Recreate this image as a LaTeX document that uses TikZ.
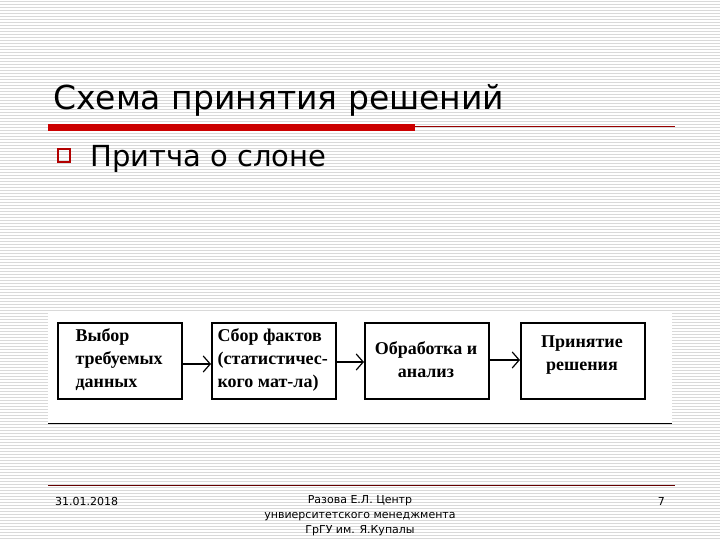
\documentclass[tikz,border=0pt]{standalone}
\usepackage{fontspec}
\setmainfont{DejaVu Sans}
\newfontfamily\tnr{Liberation Serif}
\usetikzlibrary{arrows.meta}
\begin{document}
\begin{tikzpicture}[x=1pt,y=-1pt,
  stepbox/.style={draw,line width=2pt,minimum width=124pt,minimum height=76pt,anchor=north west,inner sep=0pt},
  btxt/.style={font=\tnr\bfseries\fontsize{18}{23}\selectfont,align=left},
  conn/.style={line width=2pt,-{Straight Barb[length=7pt,width=16pt,line width=1.2pt]}},
  foot/.style={font=\fontsize{11}{15}\selectfont}]
\useasboundingbox (0,0) rectangle (720,540);
\fill[white] (0,0) rectangle (720,540);
\foreach \y in {1,4,...,540} \draw[gray!30,line width=0.8pt] (0,\y) -- (720,\y);
\node[anchor=base west,inner sep=0pt,font=\fontsize{33}{36}\selectfont] (title) at (53,110) {Схема принятия решений};
\fill[red!80!black] (48,124) rectangle (415,131);
\draw[red!60!black,line width=0.6pt] (415,126) -- (675,126);
\draw[red!70!black,line width=2pt] (58,149) rectangle (70,162);
\node[anchor=base west,inner sep=0pt,font=\fontsize{29}{32}\selectfont] (sub) at (90,167) {Притча о слоне};
\fill[white] (48,313) rectangle (672,423);
\draw[line width=1pt] (48,423) -- (672,423);
\node[stepbox] (b1) at (57,322) {};
\node[stepbox] (b2) at (211,322) {};
\node[stepbox] (b3) at (364,322) {};
\node[stepbox] (b4) at (520,322) {};
\node[btxt,anchor=north west] (t1) at (72,325) {Выбор\\требуемых\\данных};
\node[btxt,anchor=north west] (t2) at (214,325) {Сбор фактов\\(статистичес-\\кого мат-ла)};
\node[btxt,align=center] (t3) at (426,360) {Обработка и\\анализ};
\node[btxt,align=center] (t4) at (582,355) {Принятие\\решения};
\draw[conn] ([yshift=-3pt]b1.east) -- ([yshift=-3pt]b2.west);
\draw[conn] ([yshift=-1pt]b2.east) -- ([yshift=-1pt]b3.west);
\draw[conn] ([yshift=1pt]b3.east) -- ([yshift=1pt]b4.west);
\draw[red!40!black,line width=0.8pt] (48,485) -- (675,485);
\node[foot,anchor=base west,inner sep=0pt] (d) at (55,505) {31.01.2018};
\node[foot,align=center,anchor=north] (c) at (360,492) {Разова Е.Л. Центр\\унвиерситетского менеджмента\\ГрГУ им. Я.Купалы};
\node[foot,anchor=base east,inner sep=0pt] (p) at (665,505) {7};
\end{tikzpicture}
\end{document}
